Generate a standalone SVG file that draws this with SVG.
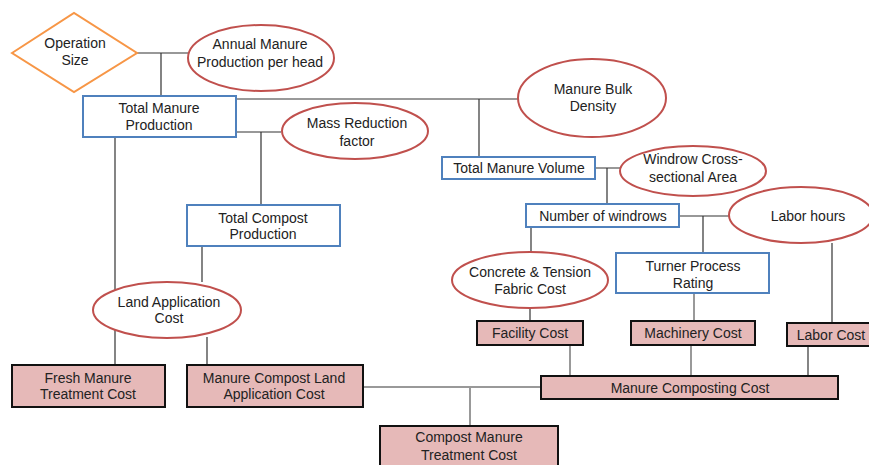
<svg xmlns="http://www.w3.org/2000/svg" width="869" height="465" viewBox="0 0 869 465">
<style>
text{font-family:"Liberation Sans",Arial,sans-serif;font-size:14px;fill:#222;text-anchor:middle}
.ell{fill:#fff;stroke:#c0504d;stroke-width:2}
.blue{fill:#fff;stroke:#4f81bd;stroke-width:2}
.cost{fill:#e6b9b8;stroke:#111;stroke-width:2}
.dia{fill:#fff;stroke:#f79646;stroke-width:2}
.c{stroke:#333;stroke-width:1.2;fill:none}
.g{stroke:#777;stroke-width:1.5;fill:none}
</style>
<rect width="869" height="465" fill="#fff"/>
<g id="connectors">
<path class="c" d="M137 53H188M161 53V96"/>
<path class="g" d="M236 99H518"/>
<path class="c" d="M479 99V157"/>
<path class="c" d="M236 132H281M261 132V205"/>
<path class="c" d="M115 137V365"/>
<path class="c" d="M202 246V282"/>
<path class="c" d="M207 337V365"/>
<path class="c" d="M595 168H620M607 168V204"/>
<path class="c" d="M679 216H729M703 216V253"/>
<path class="c" d="M531 227V252"/>
<path class="c" d="M530 308V321"/>
<path class="g" d="M694 293V321"/>
<path class="c" d="M832 243V323"/>
<path class="g" d="M570 345V376"/>
<path class="g" d="M691 345V376"/>
<path class="c" d="M808 346V376"/>
<path class="g" d="M363 387H541"/>
<path class="g" d="M470 388V426"/>
</g>
<g id="operation-size"><polygon class="dia" points="12,53 74,13 137,53 74,92"/><text x="75" y="48">Operation</text><text x="75" y="65">Size</text></g>
<g id="annual-manure"><ellipse class="ell" cx="261" cy="58" rx="73" ry="33"/><text x="260" y="49">Annual Manure</text><text x="260" y="67">Production per head</text></g>
<g id="total-manure-production"><rect class="blue" x="83" y="96" width="153" height="41"/><text x="159" y="113">Total Manure</text><text x="159" y="130">Production</text></g>
<g id="mass-reduction"><ellipse class="ell" cx="355" cy="131" rx="73" ry="28"/><text x="357" y="128">Mass Reduction</text><text x="357" y="146">factor</text></g>
<g id="manure-bulk-density"><ellipse class="ell" cx="592" cy="98" rx="74" ry="39"/><text x="593" y="94">Manure Bulk</text><text x="593" y="111">Density</text></g>
<g id="total-manure-volume"><rect class="blue" x="442" y="157" width="153" height="22"/><text x="519" y="173">Total Manure Volume</text></g>
<g id="windrow-area"><ellipse class="ell" cx="693" cy="171" rx="73" ry="25"/><text x="693" y="164">Windrow Cross-</text><text x="693" y="182">sectional Area</text></g>
<g id="number-of-windrows"><rect class="blue" x="526" y="204" width="153" height="23"/><text x="603" y="221">Number of windrows</text></g>
<g id="labor-hours"><ellipse class="ell" cx="801" cy="215" rx="72" ry="28"/><text x="808" y="221">Labor hours</text></g>
<g id="total-compost-production"><rect class="blue" x="187" y="205" width="153" height="41"/><text x="263" y="223">Total Compost</text><text x="263" y="239">Production</text></g>
<g id="land-application-cost"><ellipse class="ell" cx="167" cy="310" rx="74" ry="28"/><text x="169" y="307">Land Application</text><text x="169" y="323">Cost</text></g>
<g id="concrete-cost"><ellipse class="ell" cx="530" cy="280" rx="78" ry="28"/><text x="530" y="277">Concrete &amp; Tension</text><text x="530" y="294">Fabric Cost</text></g>
<g id="turner-rating"><rect class="blue" x="616" y="253" width="153" height="40"/><text x="693" y="271">Turner Process</text><text x="693" y="288">Rating</text></g>
<g id="facility-cost"><rect class="cost" x="477" y="321" width="106" height="24"/><text x="530" y="338">Facility Cost</text></g>
<g id="machinery-cost"><rect class="cost" x="631" y="321" width="124" height="24"/><text x="693" y="338">Machinery Cost</text></g>
<g id="labor-cost"><rect class="cost" x="787" y="323" width="86" height="23"/><text x="831" y="340">Labor Cost</text></g>
<g id="manure-composting-cost"><rect class="cost" x="541" y="376" width="297" height="23"/><text x="690" y="393">Manure Composting Cost</text></g>
<g id="fresh-manure-cost"><rect class="cost" x="12" y="365" width="153" height="42"/><text x="88" y="383">Fresh Manure</text><text x="88" y="399">Treatment Cost</text></g>
<g id="compost-land-cost"><rect class="cost" x="187" y="365" width="176" height="42"/><text x="274" y="383">Manure Compost Land</text><text x="274" y="399">Application Cost</text></g>
<g id="compost-manure-cost"><rect class="cost" x="380" y="426" width="178" height="46"/><text x="469" y="442">Compost Manure</text><text x="469" y="460">Treatment Cost</text></g>
</svg>
